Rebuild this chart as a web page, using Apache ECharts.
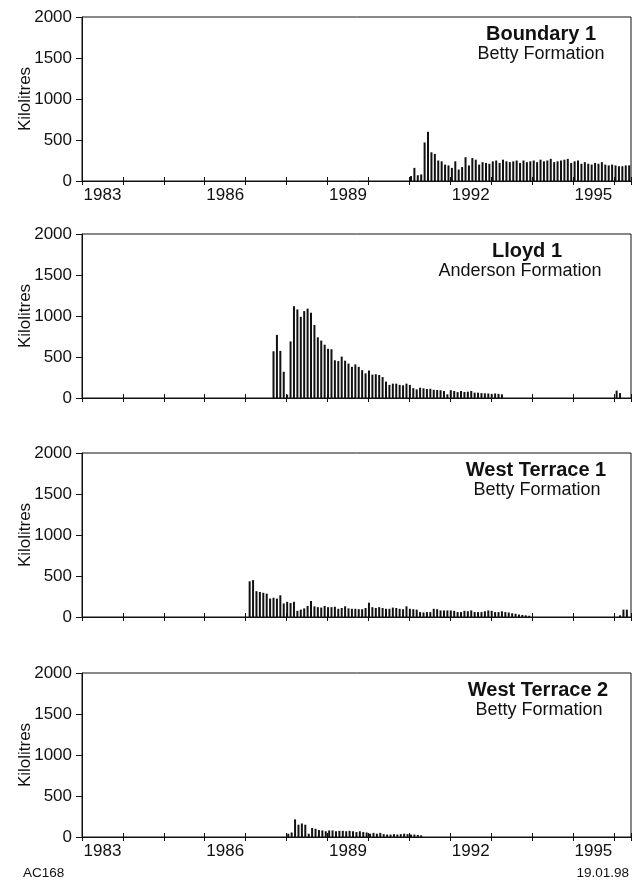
<!DOCTYPE html>
<html>
<head>
<meta charset="utf-8">
<title>Monthly production</title>
<script src="https://cdn.jsdelivr.net/npm/echarts@6/dist/echarts.min.js"></script>
<style>
  html, body { margin: 0; padding: 0; background: #fff; }
  #chart { width: 639px; height: 886px; }
</style>
</head>
<body>
<div id="chart"></div>
<script>
// axis ticks / labels
const yearLabels = [1983, 1986, 1989, 1992, 1995];
const yTicks = [0, 500, 1000, 1500, 2000];

const wellNames = ['Boundary 1', 'Lloyd 1', 'West Terrace 1', 'West Terrace 2'];
const formations = ['Betty Formation', 'Anderson Formation', 'Betty Formation', 'Betty Formation'];

// monthly volumes in kilolitres, first month of each run = [year, month]
const boundary1Start = [1991, 1];
const boundary1 = [
  60, 160, 70, 80, 470, 600, 350, 330, 250, 240, 200, 190,
  160, 240, 140, 170, 290, 190, 280, 260, 200, 230, 220, 210,
  240, 250, 220, 260, 240, 230, 240, 250, 220, 250, 230, 240,
  250, 230, 260, 240, 250, 270, 230, 240, 250, 260, 270, 220,
  240, 250, 210, 230, 210, 200, 220, 210, 230, 200, 190, 200,
  190, 180, 180, 190, 190
];

const lloyd1Start = [1987, 9];
const lloyd1 = [
  570, 770, 575, 320,
  40, 690, 1120, 1080, 990, 1060, 1090, 1040, 890, 740, 700, 650,
  600, 595, 460, 450, 505, 455, 420, 380, 410, 380, 340, 300,
  335, 285, 290, 280, 255, 200, 160, 175, 175, 160, 155, 175,
  160, 120, 105, 125, 118, 110, 112, 100, 98, 95, 85, 45,
  95, 85, 72, 85, 74, 77, 85, 65, 65, 60, 57, 55,
  50, 55, 50, 45
];
const lloyd1LateStart = [1996, 1];
const lloyd1Late = [90, 60];

const westTerrace1Start = [1987, 2];
const westTerrace1 = [
  435, 450, 315, 305, 295, 285, 225, 235, 225, 265, 165,
  185, 170, 185, 75, 90, 105, 135, 195, 130, 120, 115, 135,
  120, 120, 125, 100, 110, 130, 105, 100, 100, 95, 95, 110,
  175, 120, 110, 120, 110, 100, 100, 115, 110, 100, 95, 130,
  100, 95, 90, 60, 55, 60, 60, 100, 95, 80, 80, 80,
  80, 75, 60, 60, 75, 70, 80, 60, 60, 60, 70, 80,
  75, 60, 60, 70, 60, 55, 45, 40, 30, 25, 20, 15
];
const westTerrace1LateStart = [1996, 2];
const westTerrace1Late = [20, 90, 90];

const westTerrace2Start = [1988, 1];
const westTerrace2 = [
  40, 55, 215, 150, 165, 150, 40, 110, 100, 85, 80, 70,
  80, 80, 70, 75, 75, 70, 75, 70, 60, 70, 60, 55,
  40, 50, 40, 50, 35, 30, 30, 35, 30, 35, 40, 35,
  30, 30, 25, 20
];

// month index -> decimal year at mid month
function toPairs(start, values) {
  return values.map((v, i) => [start[0] + (start[1] - 1 + i + 0.5) / 12, v]);
}

const panelData = [
  [toPairs(boundary1Start, boundary1)],
  [toPairs(lloyd1Start, lloyd1), toPairs(lloyd1LateStart, lloyd1Late)],
  [toPairs(westTerrace1Start, westTerrace1), toPairs(westTerrace1LateStart, westTerrace1Late)],
  [toPairs(westTerrace2Start, westTerrace2)]
];

const FONT = '"Liberation Sans", Arial, Helvetica, sans-serif';
const INK = '#111';
const tops = [17, 234, 453, 673];
const plotH = 164;
const titleX = [541, 527, 536, 538];
const subX = [541, 520, 537, 539];
const showYears = [true, false, false, true];

const grids = [], xAxes = [], yAxes = [], series = [], graphics = [];

tops.forEach((top, i) => {
  grids.push({
    left: 82, right: 8, top: top, height: plotH,
    show: true, borderColor: INK, borderWidth: 1,
    outerBoundsMode: 'none'
  });
  // lower half of tick + labels
  xAxes.push({
    type: 'value', gridIndex: i, position: 'bottom',
    min: 1983, max: 1996.42, interval: 1,
    axisLine: { show: true, onZero: false, lineStyle: { color: INK, width: 1 } },
    axisTick: { show: true, length: 4, lineStyle: { color: INK } },
    splitLine: { show: false },
    axisLabel: {
      show: showYears[i],
      margin: 6,
      formatter: v => yearLabels.includes(v) ? '{y|' + v + '}' : '',
      rich: { y: { fontSize: 17, fontFamily: FONT, color: INK, padding: [0, 0, 0, 41] } }
    }
  });
  // upper half of tick
  xAxes.push({
    type: 'value', gridIndex: i, position: 'bottom',
    min: 1983, max: 1996.42, interval: 1,
    axisLine: { show: false },
    axisTick: { show: true, inside: true, length: 4, lineStyle: { color: INK } },
    splitLine: { show: false },
    axisLabel: { show: false }
  });
  yAxes.push({
    type: 'value', gridIndex: i,
    min: 0, max: 2000, interval: 500,
    name: 'Kilolitres', nameLocation: 'middle', nameGap: 48, nameRotate: 90,
    nameMoveOverlap: false,
    nameTextStyle: { fontSize: 17, fontFamily: FONT, color: INK },
    axisLine: { show: true, lineStyle: { color: INK, width: 1 } },
    axisTick: { show: true, length: 6, lineStyle: { color: INK } },
    splitLine: { show: false },
    axisLabel: {
      margin: 10, fontSize: 17, fontFamily: FONT, color: INK,
      formatter: v => yTicks.includes(v) ? String(v) : ''
    }
  });
  panelData[i].forEach(d => {
    series.push({
      type: 'bar', xAxisIndex: i * 2, yAxisIndex: i,
      data: d, barWidth: 2,
      itemStyle: { color: INK },
      silent: true, animation: false
    });
  });
  graphics.push({
    type: 'text', x: titleX[i], y: top + 17,
    style: { text: wellNames[i], fill: INK, font: 'bold 20px ' + FONT, align: 'center', verticalAlign: 'middle' }
  });
  graphics.push({
    type: 'text', x: subX[i], y: top + 37,
    style: { text: formations[i], fill: INK, font: '18px ' + FONT, align: 'center', verticalAlign: 'middle' }
  });
});

graphics.push({
  type: 'text', x: 23, y: 873,
  style: { text: 'AC168', fill: INK, font: '13.5px ' + FONT, align: 'left', verticalAlign: 'middle' }
});
graphics.push({
  type: 'text', x: 629, y: 873,
  style: { text: '19.01.98', fill: INK, font: '13.5px ' + FONT, align: 'right', verticalAlign: 'middle' }
});

const chart = echarts.init(document.getElementById('chart'), null, { renderer: 'canvas' });
chart.setOption({
  backgroundColor: '#fff',
  animation: false,
  grid: grids,
  xAxis: xAxes,
  yAxis: yAxes,
  series: series,
  graphic: graphics
});
</script>
</body>
</html>
